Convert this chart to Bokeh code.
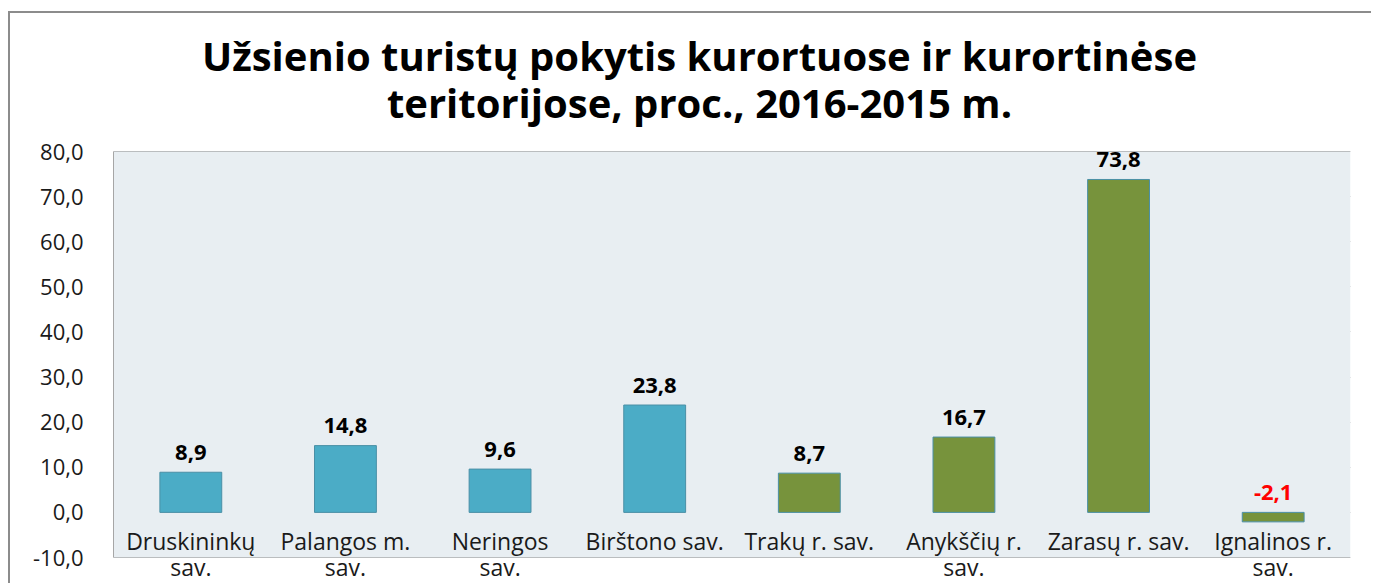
from bokeh.plotting import figure
from bokeh.models import (ColumnDataSource, LabelSet, Label, FixedTicker,
                          CustomJSTickFormatter, BoxAnnotation, FactorRange, Range1d)
from bokeh.core.properties import value
from bokeh.embed import file_html
from bokeh.resources import INLINE

# ---- data ----
categories = ["Druskininkų sav.", "Palangos m. sav.", "Neringos sav.", "Birštono sav.",
              "Trakų r. sav.", "Anykščių r. sav.", "Zarasų r. sav.", "Ignalinos r. sav."]
axis_line1 = ["Druskininkų", "Palangos m.", "Neringos", "Birštono sav.",
              "Trakų r. sav.", "Anykščių r.", "Zarasų r. sav.", "Ignalinos r."]
axis_line2 = ["sav.", "sav.", "sav.", "", "", "sav.", "", "sav."]
values = [8.9, 14.8, 9.6, 23.8, 8.7, 16.7, 73.8, -2.1]
groups = ["kurortai", "kurortai", "kurortai", "kurortai",
          "kurortinės teritorijos", "kurortinės teritorijos",
          "kurortinės teritorijos", "kurortinės teritorijos"]
y_ticks = [-10, 0, 10, 20, 30, 40, 50, 60, 70, 80]
title_lines = ["Užsienio turistų pokytis kurortuose ir kurortinėse",
               "teritorijose, proc., 2016-2015 m."]

FONT = "Open Sans"
group_colors = {"kurortai": "#4BACC6", "kurortinės teritorijos": "#77933C"}

src = ColumnDataSource(dict(
    cat=categories,
    val=values,
    color=[group_colors[g] for g in groups],
    lab=[f"{v:.1f}".replace(".", ",") for v in values],
    lab_y=[max(v, 0) for v in values],
    lab_color=["#FF0000" if v < 0 else "#000000" for v in values],
    l1=axis_line1,
    l2=axis_line2,
    zero=[0] * len(values),
))

# layout: canvas offset (10, 13) in page by css margin+border
W, H = 1363, 572
PX_PER_UNIT = 406 / 90.0
Y_TOP = y_ticks[-1] + 138 / PX_PER_UNIT
Y_BOT = y_ticks[0] - (H - 544) / PX_PER_UNIT

p = figure(width=W, height=H, output_backend="svg", toolbar_location=None,
           x_range=FactorRange(factors=categories, range_padding=0),
           y_range=Range1d(Y_BOT, Y_TOP),
           min_border_left=103, min_border_right=W - 1340, min_border_top=0, min_border_bottom=0)
p.styles = {"margin-left": "8px", "margin-top": "11px",
            "border-left": "2px solid #8C8C8C", "border-top": "2px solid #8C8C8C"}

p.background_fill_color = "white"
p.border_fill_color = "white"
p.outline_line_color = None

# plot area
p.add_layout(BoxAnnotation(bottom=y_ticks[0], top=y_ticks[-1], fill_color="#E8EEF2",
                           fill_alpha=1, line_color=None, level="underlay"))

p.vbar(x="cat", top="val", bottom=0, width=0.4, source=src,
       fill_color="color", line_color="#4A8FA6", line_width=1)

# y axis
p.yaxis.ticker = FixedTicker(ticks=y_ticks)
p.yaxis.bounds = (y_ticks[0], y_ticks[-1])
p.yaxis.formatter = CustomJSTickFormatter(code="return tick.toFixed(1).replace('.', ',')")
p.yaxis.major_tick_line_color = None
p.yaxis.minor_tick_line_color = None
p.yaxis.axis_line_color = "#A6A6A6"
p.yaxis.major_label_text_font = FONT
p.yaxis.major_label_text_font_size = "22px"
p.yaxis.major_label_text_color = "#1a1a1a"
p.yaxis.major_label_standoff = 24
p.xaxis.visible = False
p.xgrid.grid_line_color = None
p.ygrid.ticker = FixedTicker(ticks=y_ticks)
p.ygrid.grid_line_color = "#8C8C8C"
p.ygrid.grid_line_width = 1

# value labels
p.add_layout(LabelSet(x="cat", y="lab_y", text="lab", source=src, y_offset=20,
                      text_align="center", text_baseline="middle",
                      text_font=value(FONT), text_font_style="bold",
                      text_font_size="22px", text_color="lab_color"))

# category labels (two lines)
for col, off in (("l1", -29), ("l2", -55)):
    p.add_layout(LabelSet(x="cat", y="zero", text=col, source=src, y_offset=off,
                          text_align="center", text_baseline="middle",
                          text_font=value(FONT), text_font_size="23px",
                          text_color="#1a1a1a"))

# title
for i, t in enumerate(title_lines):
    p.add_layout(Label(x=687, y=40 + 47 * i, x_units="canvas", y_units="canvas", text=t,
                       text_align="center", text_baseline="middle",
                       text_font=FONT, text_font_style="bold",
                       text_font_size="40px", text_color="#000000"))

open("out.html", "w").write(file_html(p, INLINE))
